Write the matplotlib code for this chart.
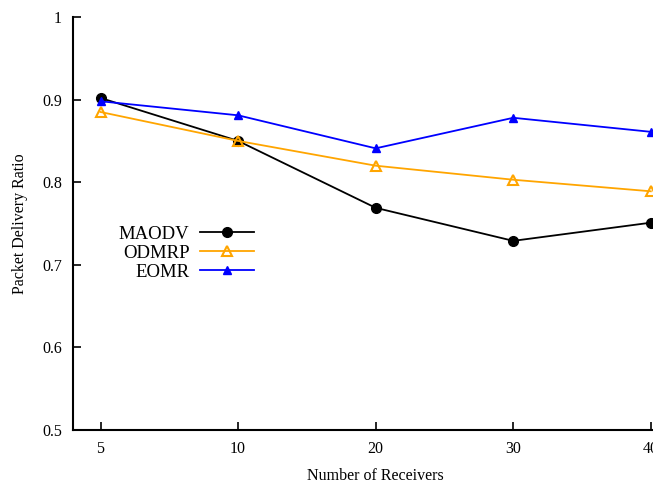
from matplotlib import pyplot as plt
import numpy as np

receivers = ['5', '10', '20', '30', '40']
maodv = [0.902, 0.850, 0.769, 0.729, 0.751]
odmrp = [0.885, 0.850, 0.820, 0.803, 0.789]
eomr = [0.898, 0.881, 0.841, 0.878, 0.861]

plt.rcParams['font.family'] = ['Liberation Serif', 'DejaVu Serif']
plt.rcParams['font.size'] = 11.5

fig = plt.figure(figsize=(6.53, 4.86), dpi=100)
ax = fig.add_axes([0.1118, 0.1152, 0.927, 0.8498])

x = np.arange(len(receivers))
ax.plot(x, maodv, color='black', marker='o', markersize=7, lw=1.3, label='MAODV')
ax.plot(x, odmrp, color='orange', marker='^', markersize=7, markerfacecolor='none',
        markeredgewidth=1.5, lw=1.3, label='ODMRP')
ax.plot(x, eomr, color='blue', marker='^', markersize=6, lw=1.3, label='EOMR')

ax.set_xlim(-0.2, 4.2)
ax.set_ylim(0.5, 1.0)
ax.set_xticks(x)
ax.set_xticklabels(receivers)
ax.set_yticks([0.5, 0.6, 0.7, 0.8, 0.9, 1.0])
ax.set_yticklabels(['0.5', '0.6', '0.7', '0.8', '0.9', '1'])
ax.tick_params(direction='in', length=6, width=1.2, pad=8)
ax.spines['top'].set_visible(False)
ax.spines['right'].set_visible(False)
ax.spines['left'].set_linewidth(1.5)
ax.spines['bottom'].set_linewidth(1.5)

ax.set_xlabel('Number of Receivers', labelpad=8)
ax.set_ylabel('Packet Delivery Ratio', labelpad=10)

ax.legend(loc='upper left', bbox_to_anchor=(0.048, 0.535), frameon=False, markerfirst=False,
          handlelength=2.9, handletextpad=0.55, labelspacing=0.1, fontsize=13.5)

plt.savefig('out.png', dpi=100)
